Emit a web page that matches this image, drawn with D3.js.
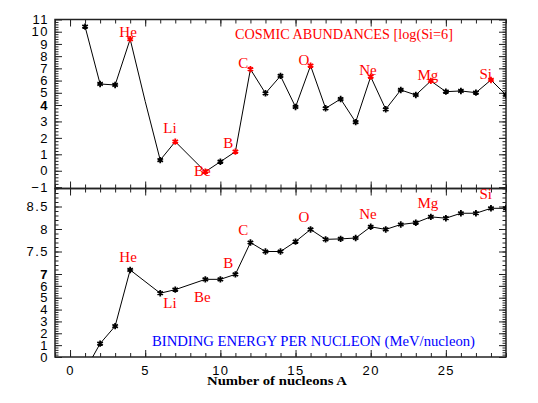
<!DOCTYPE html>
<html>
<head>
<meta charset="utf-8">
<style>
body { margin:0; background:#fff; }
.tick text { font-family:"Liberation Sans", sans-serif; font-size:13px; letter-spacing:1.5px; fill:#000; }
.tick line { stroke:#222; }
</style>
</head>
<body>
<div id="chart"></div>
<script src="https://cdn.jsdelivr.net/npm/d3@7"></script>
<script>

// cosmic abundances, log scale with Si = 6
var abundA   = [1, 2, 3, 4, 5, 6, 7, 9, 10, 11, 12, 13, 14, 15, 16, 17, 18, 19, 20, 21, 22, 23, 24, 25, 26, 27, 28, 29]
var abundVal = [10.42, 5.72, 5.64, 9.39, 4.3, 0.65, 1.77, -0.06, 0.55, 1.16, 6.93, 4.96, 6.38, 3.88, 7.22, 3.80, 4.49, 2.96, 6.32, 3.74, 5.23, 4.82, 5.97, 5.09, 5.15, 5.01, 6.05, 4.82]
var abundNoMark = [5]

// binding energy per nucleon (MeV)
var bindA   = [1, 2, 3, 4, 6, 7, 9, 10, 11, 12, 13, 14, 15, 16, 17, 18, 19, 20, 21, 22, 23, 24, 25, 26, 27, 28, 29]
var bindVal = [-1.15, 1.13, 2.6, 7.09, 5.38, 5.68, 6.55, 6.55, 6.97, 7.70, 7.50, 7.50, 7.72, 7.99, 7.77, 7.78, 7.80, 8.05, 7.99, 8.10, 8.14, 8.27, 8.24, 8.35, 8.35, 8.46, 8.46]

// element labels: A of the nucleus, label position in data units
var elemName  = ["He", "Li", "Be", "B", "C", "O", "Ne", "Mg", "Si"]
var elemA     = [4, 7, 9, 11, 12, 16, 20, 24, 28]
var elemLabX  = [3.86, 6.65, 8.8, 10.53, 11.53, 15.55, 19.82, 23.8, 27.65]
var topLabY   = [9.57, 2.3, -0.3, 1.38, 7.03, 7.28, 6.46, 6.05, 6.13]
var botLabY   = [7.27, 4.13, 4.68, 7.13, 7.87, 8.16, 8.22, 8.46, 8.66]

var xTicks = [0, 5, 10, 15, 20, 25]
var topYTicks = [-1, 0, 1, 2, 3, 4, 5, 6, 7, 8, 9, 10, 11]
var botYTicks = [0, 1, 2, 3, 4, 5, 6, 7, 7.5, 8, 8.5]

var W = 538, H = 403
var pLeft = 55, pRight = 506, pTop = 19.5, pMid = 188.5, pBot = 357

var svg = d3.select("#chart").append("svg")
    .attr("width", W).attr("height", H)

var x = d3.scaleLinear().domain([-1, 29]).range([pLeft, pRight])
// both panels use a broken (two-part) y axis
var yTop = d3.scaleLinear().domain([-1.08, 4, 11]).range([pMid, 105, pTop])
var yBot = d3.scaleLinear().domain([0, 7, 8.9]).range([pBot, 274, pMid])

var defs = svg.append("defs")
defs.append("clipPath").attr("id", "clipTop").append("rect")
    .attr("x", pLeft).attr("y", pTop).attr("width", pRight - pLeft).attr("height", pMid - pTop)
defs.append("clipPath").attr("id", "clipBot").append("rect")
    .attr("x", pLeft).attr("y", pMid).attr("width", pRight - pLeft).attr("height", pBot - pMid)

function fmt(d){ return (d < 0 ? "\u2212" + (-d) : "" + d) }

var xMinor = d3.range(-1, 30, 1)

// x ticks: top edge, middle line (both sides), bottom edge
function xAxis(yPos, axisFn, withLabels){
    var g = svg.append("g").attr("transform", "translate(0," + yPos + ")")
    g.call(axisFn(x).tickValues(xMinor).tickSize(-4).tickFormat(""))
    g = svg.append("g").attr("transform", "translate(0," + yPos + ")")
    g.call(axisFn(x).tickValues(xTicks).tickSize(-7).tickPadding(9)
        .tickFormat(withLabels ? d3.format("d") : ""))
}

function yAxes(scale, major, minor, bold){
    var g = svg.append("g").attr("transform", "translate(" + pLeft + ",0)")
    g.call(d3.axisLeft(scale).tickValues(minor).tickSize(-3.5).tickFormat(""))
    g = svg.append("g").attr("transform", "translate(" + pLeft + ",0)")
    g.call(d3.axisLeft(scale).tickValues(major).tickSize(-7).tickPadding(6).tickFormat(fmt))
    g.selectAll(".tick text").filter(function(d){ return d == bold })
        .style("font-weight", "bold")
    g = svg.append("g").attr("transform", "translate(" + pRight + ",0)")
    g.call(d3.axisRight(scale).tickValues(minor).tickSize(-3.5).tickFormat(""))
    g = svg.append("g").attr("transform", "translate(" + pRight + ",0)")
    g.call(d3.axisRight(scale).tickValues(major).tickSize(-7).tickFormat(""))
}

xAxis(pTop, d3.axisTop, false)
xAxis(pMid, d3.axisBottom, false)
xAxis(pMid, d3.axisTop, false)
xAxis(pBot, d3.axisBottom, true)
yAxes(yTop, topYTicks, d3.range(-1, 4, 0.2).concat(d3.range(4, 11, 0.2)), 4)
yAxes(yBot, botYTicks, d3.range(0, 7, 0.2).concat(d3.range(7, 8.9, 0.1)), 7)
svg.selectAll(".domain").remove()

// frames
svg.append("rect").attr("x", pLeft).attr("y", pTop).attr("width", pRight - pLeft).attr("height", pMid - pTop)
    .attr("fill", "none").attr("stroke", "#222").attr("stroke-width", 1.5)
svg.append("rect").attr("x", pLeft).attr("y", pMid).attr("width", pRight - pLeft).attr("height", pBot - pMid)
    .attr("fill", "none").attr("stroke", "#222").attr("stroke-width", 1.5)

var star = d3.symbol().type(d3.symbolAsterisk).size(28)

function panel(A, V, scale, clip, redMarks, skip){
    var data = A.map(function(a, i){ return {a:a, v:V[i]} })
    var g = svg.append("g").attr("clip-path", "url(#" + clip + ")")
    g.append("path").datum(data)
        .attr("fill", "none").attr("stroke", "#000").attr("stroke-width", 1)
        .attr("d", d3.line().x(d=>x(d.a)).y(d=>scale(d.v)))
    g.selectAll(".mk").data(data.filter(d=>skip.indexOf(d.a) < 0))
        .enter().append("path")
        .attr("transform", d=>"translate(" + x(d.a) + "," + scale(d.v) + ")")
        .attr("d", star)
        .attr("fill", "none")
        .attr("stroke", d=>redMarks.indexOf(d.a) >= 0 ? "#ff0000" : "#000")
        .attr("stroke-width", 1.8)
}

panel(abundA, abundVal, yTop, "clipTop", elemA, abundNoMark)
panel(bindA, bindVal, yBot, "clipBot", [], [])

// element names
function names(scale, labY){
    svg.append("g").selectAll("text").data(elemName).enter().append("text")
        .attr("x", (d, i)=>x(elemLabX[i]))
        .attr("y", (d, i)=>scale(labY[i]))
        .attr("text-anchor", "middle")
        .style("font-family", "'Liberation Serif', serif")
        .style("font-size", "15px")
        .style("fill", "#ff0000")
        .text(d=>d)
}
names(yTop, topLabY)
names(yBot, botLabY)

// panel titles
svg.append("text").attr("x", 235).attr("y", 38.5)
    .attr("textLength", 218).attr("lengthAdjust", "spacingAndGlyphs")
    .style("font-family", "'Liberation Serif', serif").style("font-size", "15px")
    .style("fill", "#ff0000")
    .text("COSMIC ABUNDANCES [log(Si=6]")

svg.append("text").attr("x", 152).attr("y", 345.5)
    .attr("textLength", 323).attr("lengthAdjust", "spacingAndGlyphs")
    .style("font-family", "'Liberation Serif', serif").style("font-size", "15px")
    .style("fill", "#0000ff")
    .text("BINDING ENERGY PER NUCLEON (MeV/nucleon)")

svg.append("text").attr("x", 207).attr("y", 385)
    .attr("textLength", 140).attr("lengthAdjust", "spacingAndGlyphs")
    .style("font-family", "'Liberation Serif', serif").style("font-size", "12px")
    .style("font-weight", "bold")
    .text("Number of nucleons A")

</script>
</body>
</html>
